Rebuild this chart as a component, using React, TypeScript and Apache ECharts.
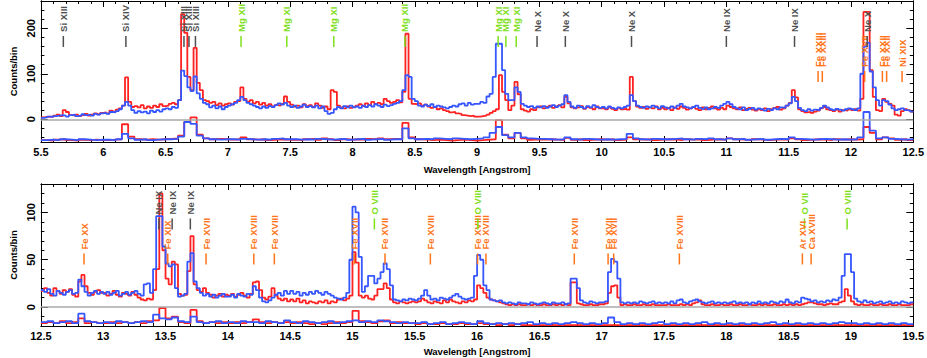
import React, { useEffect, useRef } from "react";
import * as echarts from "echarts";

// ---------------- data ----------------
const topStart = 5.5;
const topBin = 0.025;
const botStart = 12.5;
const botBin = 0.025;
const resBin = 0.05;

const topRed = [
  4, 5, 6, 5, 8, 10, 7, 20, 16, 9, 8, 10, 7, 9, 12, 8, 10, 13, 11, 14,
  15, 13, 19, 17, 21, 24, 30, 92, 38, 27, 29, 26, 31, 24, 28, 25, 30, 27, 33, 29,
  30, 34, 36, 33, 42, 231, 190, 93, 64, 157, 80, 64, 42, 40, 36, 38, 31, 35, 30, 33,
  35, 32, 38, 40, 70, 45, 38, 42, 35, 38, 32, 36, 30, 33, 28, 31, 30, 34, 50, 38,
  32, 28, 30, 26, 33, 29, 31, 27, 35, 30, 25, 28, 22, 64, 60, 30, 26, 24, 28, 25,
  27, 30, 33, 29, 35, 31, 38, 34, 36, 33, 45, 40, 36, 38, 42, 37, 60, 188, 45, 34,
  33, 35, 30, 32, 28, 25, 27, 22, 24, 20, 18, 15, 16, 13, 12, 9, 8, 7, 8, 6,
  6, 7, 8, 10, 14, 18, 22, 97, 60, 42, 20, 30, 82, 55, 22, 19, 17, 22, 20, 26,
  28, 24, 27, 30, 25, 28, 31, 26, 49, 35, 26, 24, 26, 29, 23, 27, 25, 22, 28, 24,
  24, 22, 26, 23, 20, 25, 22, 23, 21, 93, 40, 28, 25, 27, 23, 26, 24, 28, 22, 25,
  22, 25, 20, 26, 23, 28, 25, 21, 24, 27, 23, 20, 26, 22, 25, 28, 24, 21, 25, 22,
  30, 27, 24, 22, 26, 20, 23, 25, 21, 19, 22, 20, 24, 18, 22, 25, 27, 21, 24, 30,
  36, 64, 48, 22, 18, 15, 16, 14, 17, 19, 24, 27, 22, 20, 18, 21, 17, 20, 19, 22,
  20, 22, 19, 45, 236, 236, 108, 49, 20, 18, 45, 38, 34, 30, 10, 8, 18, 22, 20, 17,
];

const topBlue = [
  3, 4, 6, 5, 7, 8, 9, 8, 6, 9, 10, 7, 8, 11, 9, 10, 8, 12, 10, 13,
  14, 12, 16, 15, 18, 22, 30, 38, 30, 20, 14, 18, 15, 17, 13, 19, 16, 20, 17, 22,
  24, 22, 27, 25, 42, 107, 95, 70, 62, 94, 57, 45, 36, 33, 26, 30, 24, 28, 22, 27,
  30, 33, 36, 42, 49, 42, 36, 33, 30, 27, 24, 28, 25, 29, 27, 31, 35, 32, 36, 30,
  27, 30, 25, 28, 32, 27, 29, 26, 30, 24, 28, 18, 12, 14, 22, 27, 24, 29, 26, 30,
  26, 28, 25, 30, 27, 31, 28, 33, 30, 27, 32, 29, 31, 34, 36, 40, 64, 97, 93, 45,
  40, 30, 28, 32, 29, 33, 27, 30, 28, 26, 24, 27, 30, 28, 33, 35, 30, 36, 32, 34,
  34, 38, 36, 50, 56, 93, 166, 166, 108, 56, 42, 42, 70, 60, 34, 30, 27, 29, 25, 28,
  26, 29, 25, 28, 31, 27, 30, 33, 53, 38, 28, 25, 30, 27, 24, 29, 26, 31, 27, 25,
  27, 24, 28, 25, 23, 26, 24, 27, 30, 53, 40, 30, 27, 25, 28, 26, 30, 27, 24, 29,
  26, 24, 28, 25, 30, 34, 28, 26, 24, 27, 30, 25, 23, 26, 22, 24, 27, 25, 30, 34,
  38, 33, 27, 24, 22, 26, 20, 23, 25, 21, 24, 22, 19, 23, 20, 24, 22, 26, 25, 30,
  35, 49, 40, 25, 20, 18, 22, 19, 21, 20, 25, 30, 26, 22, 20, 23, 21, 19, 22, 24,
  22, 20, 24, 100, 160, 168, 105, 70, 42, 30, 42, 40, 32, 24, 20, 22, 24, 20, 19, 17,
];

const topRedRes = [
  -46, -47, -45, -44, -46, -47, -45, -46, -45, -46,
  -46, -45, -44, -11, -38, -44, -45, -44, -45, -44,
  -43, -42, -36, -6, 4, -34, -42, -44, -43, -44,
  -45, -44, -40, -44, -45, -44, -46, -45, -44, -45,
  -45, -46, -44, -43, -45, -42, -44, -46, -44, -45,
  -44, -45, -43, -44, -42, -44, -43, -44, -8, -40,
  -44, -45, -46, -45, -46, -47, -46, -45, -46, -47,
  -46, -45, -44, -2, -34, -42, -30, -42, -45, -44,
  -45, -44, -45, -46, -41, -45, -44, -46, -45, -44,
  -45, -44, -46, -45, -40, -44, -45, -44, -46, -45,
  -44, -45, -46, -44, -45, -44, -46, -45, -44, -45,
  -42, -44, -45, -46, -44, -45, -46, -45, -44, -45,
  -42, -44, -46, -45, -44, -45, -46, -44, -45, -44,
  -45, -44, -17, -30, -44, -40, -42, -45, -44, -46,
];

const topBlueRes = [
  -46, -45, -46, -44, -45, -46, -44, -45, -46, -45,
  -45, -46, -44, -32, -42, -45, -44, -46, -45, -44,
  -44, -43, -38, -6, -10, -36, -42, -44, -45, -44,
  -44, -45, -43, -44, -45, -44, -45, -43, -42, -44,
  -44, -45, -44, -45, -43, -44, -45, -44, -43, -45,
  -44, -43, -45, -44, -43, -45, -44, -44, -20, -42,
  -44, -43, -44, -42, -43, -44, -42, -43, -44, -43,
  -42, -40, -30, -17, -35, -40, -30, -40, -42, -43,
  -43, -44, -45, -44, -40, -44, -45, -43, -44, -45,
  -44, -45, -44, -43, -32, -42, -44, -45, -43, -44,
  -44, -43, -42, -44, -45, -43, -44, -42, -44, -45,
  -42, -44, -43, -45, -44, -43, -45, -44, -43, -44,
  -40, -43, -44, -45, -44, -43, -44, -45, -44, -45,
  -44, -40, 16, -25, -42, -40, -43, -44, -45, -44,
];

const botRed = [
  17, 20, 15, 12, 20, 17, 14, 18, 16, 19, 13, 11, 27, 34, 22, 15, 13, 16, 18, 15,
  15, 12, 14, 17, 13, 11, 15, 14, 12, 16, 13, 10, 8, 7, 9, 8, 18, 40, 120, 60,
  30, 24, 48, 45, 14, 12, 13, 38, 75, 24, 18, 16, 20, 15, 13, 10, 12, 14, 11, 13,
  12, 14, 11, 13, 15, 12, 10, 14, 26, 27, 18, 10, 8, 11, 20, 12, 9, 7, 9, 6,
  8, 6, 9, 5, 7, 4, 6, 5, 4, 6, 5, 7, 4, 6, 5, 8, 9, 7, 9, 12,
  58, 47, 12, 10, 12, 9, 8, 12, 19, 19, 25, 20, 8, 5, 4, 6, 5, 4, 5, 6,
  5, 6, 9, 7, 5, 4, 6, 5, 4, 7, 5, 8, 6, 5, 4, 6, 5, 7, 6, 8,
  23, 20, 15, 10, 8, 7, 6, 5, 4, 3, 2, 3, 2, 3, 2, 2, 3, 2, 3, 2,
  2, 3, 2, 2, 3, 2, 3, 2, 3, 2, 26, 26, 4, 3, 2, 2, 3, 2, 2, 3,
  3, 4, 15, 22, 23, 10, 2, 3, 2, 2, 3, 2, 2, 3, 2, 2, 3, 2, 2, 2,
  2, 3, 2, 2, 2, 3, 2, 3, 2, 4, 5, 7, 3, 2, 2, 3, 2, 2, 3, 2,
  2, 3, 2, 2, 3, 2, 2, 3, 2, 2, 3, 2, 3, 2, 2, 3, 2, 2, 3, 2,
  3, 2, 3, 2, 3, 4, 5, 5, 4, 3, 3, 2, 3, 4, 3, 3, 5, 6, 19, 12,
  6, 3, 2, 3, 2, 2, 3, 2, 2, 3, 2, 2, 3, 2, 2, 3, 2, 2, 2, 3,
];

const botBlue = [
  18, 16, 19, 14, 12, 17, 15, 13, 16, 18, 14, 15, 29, 22, 16, 12, 15, 17, 14, 16,
  14, 16, 13, 15, 17, 12, 14, 16, 13, 15, 17, 14, 12, 24, 25, 15, 40, 96, 96, 64,
  46, 43, 45, 20, 11, 12, 14, 48, 57, 27, 20, 15, 12, 14, 11, 13, 10, 12, 14, 11,
  11, 13, 10, 14, 12, 11, 14, 13, 22, 18, 10, 6, 5, 7, 10, 13, 15, 12, 17, 14,
  17, 14, 16, 12, 15, 13, 16, 14, 17, 15, 13, 16, 14, 12, 10, 9, 8, 10, 15, 50,
  106, 100, 53, 16, 22, 33, 33, 25, 30, 37, 46, 40, 23, 8, 7, 6, 8, 7, 9, 8,
  7, 9, 12, 18, 12, 8, 9, 7, 10, 9, 8, 10, 12, 14, 11, 9, 8, 9, 10, 33,
  55, 50, 23, 18, 8, 7, 6, 7, 5, 4, 5, 4, 3, 5, 4, 4, 3, 5, 4, 3,
  4, 5, 4, 3, 5, 4, 4, 5, 3, 4, 30, 30, 20, 7, 5, 4, 6, 5, 4, 5,
  5, 6, 37, 51, 48, 30, 5, 4, 5, 4, 5, 4, 6, 5, 4, 5, 6, 4, 5, 4,
  5, 4, 6, 4, 7, 8, 5, 4, 6, 7, 8, 6, 5, 4, 5, 6, 4, 5, 4, 5,
  4, 5, 6, 4, 5, 4, 5, 3, 5, 4, 6, 4, 5, 4, 6, 5, 4, 6, 5, 8,
  5, 4, 6, 5, 10, 9, 8, 6, 7, 5, 6, 5, 7, 6, 8, 7, 10, 33, 56, 56,
  37, 9, 6, 5, 7, 5, 6, 4, 5, 6, 4, 5, 6, 4, 5, 4, 6, 5, 4, 5,
];

const botRedRes = [
  -17, -16, -17, -15, -17, -16, -12, -17, -16, -17,
  -17, -16, -17, -16, -17, -16, -17, -15, -14, -1,
  -12, -10, -16, -17, -3, -15, -17, -16, -17, -16,
  -17, -16, -17, -16, -13, -16, -17, -16, -17, -16,
  -17, -16, -17, -18, -17, -18, -17, -16, -17, -16,
  -4, -15, -16, -17, -15, -14, -17, -16, -17, -17,
  -18, -17, -18, -18, -17, -18, -18, -17, -18, -18,
  -17, -18, -18, -19, -18, -19, -18, -19, -19, -19,
  -19, -19, -19, -19, -19, -19, -19, -19, -19, -19,
  -19, -19, -19, -19, -19, -19, -19, -19, -19, -19,
  -19, -19, -19, -19, -19, -19, -19, -19, -19, -19,
  -19, -19, -19, -19, -19, -19, -19, -19, -19, -19,
  -19, -19, -19, -19, -19, -19, -19, -19, -19, -19,
  -19, -19, -19, -19, -19, -19, -19, -19, -19, -19,
];

const botBlueRes = [
  -16, -15, -17, -16, -15, -17, -7, -15, -16, -17,
  -16, -17, -15, -16, -17, -16, -15, -16, -8, -12,
  -13, -11, -15, -16, -10, -16, -17, -16, -15, -17,
  -16, -17, -15, -16, -16, -17, -15, -16, -17, -14,
  -16, -17, -15, -16, -17, -16, -15, -17, -16, -15,
  -14, -16, -15, -16, -14, -15, -16, -17, -16, -17,
  -17, -16, -18, -17, -16, -18, -17, -16, -17, -18,
  -15, -17, -18, -17, -18, -17, -18, -17, -16, -18,
  -17, -18, -17, -18, -17, -16, -17, -18, -17, -18,
  -17, -11, -16, -18, -17, -18, -17, -18, -17, -16,
  -18, -17, -18, -17, -18, -17, -16, -18, -17, -18,
  -17, -18, -17, -18, -17, -18, -17, -16, -18, -17,
  -18, -17, -18, -17, -18, -17, -18, -17, -16, -17,
  -17, -18, -17, -18, -17, -18, -17, -18, -17, -18,
];

const topLineWave = [5.68, 6.182, 6.648, 6.688, 6.74, 7.106, 7.473, 7.85, 8.421, 9.169, 9.231, 9.314, 9.481, 9.708, 10.239, 11.0, 11.547, 11.736, 11.77, 12.11, 12.13, 12.252, 12.286, 12.41];
const topLineName = ["Si XIII", "Si XIV", "Si XIII", "Si XIII", "Si XIII", "Mg XII", "Mg XI", "Mg XI", "Mg XII", "Mg XI", "Mg XI", "Mg XI", "Ne X", "Ne X", "Ne X", "Ne IX", "Ne IX", "Fe XXIII", "Fe XXIII", "Fe XVII", "Ne X", "Fe XXII", "Fe XXII", "Ni XIX"];

const botLineWave = [12.846, 13.447, 13.518, 13.553, 13.699, 13.825, 14.208, 14.373, 15.014, 15.176, 15.261, 15.625, 16.004, 16.006, 16.071, 16.78, 17.051, 17.096, 17.623, 18.627, 18.61, 18.68, 18.969];
const botLineName = ["Fe XX", "Ne IX", "Fe XIX", "Ne IX", "Ne IX", "Fe XVII", "Fe XVIII", "Fe XVIII", "Fe XVII", "O VIII", "Fe XVII", "Fe XVIII", "Fe XVIII", "O VIII", "Fe XVIII", "Fe XVII", "Fe XVII", "Fe XVII", "Fe XVIII", "O VII", "Ar XVI", "Ca XVIII", "O VIII"];

const topYLabels = [0, 100, 200];
const topYMinor = [-40, -20, 0, 20, 40, 60, 80, 100, 120, 140, 160, 180, 200, 220, 240, 260];
const botYLabels = [0, 50, 100];
const botYMinor = [-20, -10, 0, 10, 20, 30, 40, 50, 60, 70, 80, 90, 100, 110, 120, 130];

// ---------------- styles ----------------
const RED = "#ff2222";
const BLUE = "#3656ff";
const GRAY = "#4f4f4f";
const GREEN = "#7ee01c";
const ORANGE = "#ff7418";
const FONT = "'Liberation Sans', Arial, Helvetica, sans-serif";

function kindColor(name: string) {
  const el = name.split(" ")[0];
  if (el === "Si" || el === "Ne") return GRAY;
  if (el === "Mg" || el === "O") return GREEN;
  return ORANGE;
}
function isUpper(name: string) {
  return kindColor(name) !== ORANGE;
}

function steps(start: number, bin: number, vals: number[]) {
  const out: number[][] = vals.map((v, i) => [+(start + i * bin).toFixed(4), v]);
  out.push([+(start + vals.length * bin).toFixed(4), vals[vals.length - 1]]);
  return out;
}

function lineSeries(xi: number, yi: number, data: number[][], color: string, z: number, extra: any = {}) {
  return {
    type: "line",
    xAxisIndex: xi,
    yAxisIndex: yi,
    data,
    step: "end",
    symbol: "none",
    showSymbol: false,
    silent: true,
    z,
    lineStyle: { color, width: 1.8 },
    ...extra,
  };
}

function labelSeries(xi: number, yi: number, waves: number[], names: string[], upperBase: number, lowerBase: number) {
  return {
    type: "custom",
    xAxisIndex: xi,
    yAxisIndex: yi,
    silent: true,
    clip: false,
    z: 10,
    data: waves.map((w, i) => [w, isUpper(names[i]) ? upperBase : lowerBase]),
    renderItem: (params: any, api: any) => {
      const name = names[params.dataIndex];
      const color = kindColor(name);
      const p = api.coord([api.value(0), api.value(1)]);
      return {
        type: "group",
        children: [
          {
            type: "line",
            shape: { x1: p[0], y1: p[1], x2: p[0], y2: p[1] - 11 },
            style: { stroke: color, lineWidth: 1.5 },
          },
          {
            type: "text",
            x: p[0],
            y: p[1] - 15,
            rotation: Math.PI / 2,
            style: {
              text: name,
              fill: color,
              fontSize: 9.5,
              fontFamily: FONT,
              fontWeight: "bold",
              align: "left",
              verticalAlign: "middle",
            },
          },
        ],
      };
    },
  };
}

function xAxes(grid: number, min: number, max: number, nameGap: number) {
  const common = {
    gridIndex: grid,
    type: "value",
    min,
    max,
    interval: 0.5,
    splitLine: { show: false },
    axisLine: { show: true, onZero: false, lineStyle: { color: "#000", width: 1 } },
    axisTick: { show: true, inside: true, length: 6, lineStyle: { color: "#000", width: 1 } },
    minorTick: { show: true, splitNumber: 5, length: 3, lineStyle: { color: "#000", width: 1 } },
  };
  return [
    {
      ...common,
      position: "bottom",
      name: "Wavelength [Angstrom]",
      nameLocation: "middle",
      nameGap,
      nameTextStyle: { fontFamily: FONT, fontSize: 9.5, fontWeight: "bold", color: "#000" },
      axisLabel: {
        show: true,
        margin: 4,
        fontFamily: FONT,
        fontSize: 11,
        fontWeight: "bold",
        color: "#000",
        showMinLabel: true,
        showMaxLabel: true,
        hideOverlap: false,
      },
    },
    { ...common, position: "top", axisLabel: { show: false } },
  ];
}

function yAxes(grid: number, min: number, max: number, labels: number[], minor: number[]) {
  const base = {
    gridIndex: grid,
    type: "value",
    min,
    max,
    splitLine: { show: false },
    axisLine: { show: true, onZero: false, lineStyle: { color: "#000", width: 1 } },
  };
  return [
    {
      ...base,
      position: "left",
      name: "Counts/bin",
      nameLocation: "middle",
      nameGap: 15,
      nameRotate: 90,
      nameTextStyle: { fontFamily: FONT, fontSize: 9.5, fontWeight: "bold", color: "#000" },
      axisTick: { show: true, inside: true, length: 7, customValues: labels, lineStyle: { color: "#000" } },
      axisLabel: {
        show: true,
        customValues: labels,
        rotate: 90,
        margin: 4,
        fontFamily: FONT,
        fontSize: 11,
        fontWeight: "bold",
        color: "#000",
      },
    },
    {
      ...base,
      position: "left",
      axisTick: { show: true, inside: true, length: 3.5, customValues: minor, lineStyle: { color: "#000" } },
      axisLabel: { show: false },
    },
    {
      ...base,
      position: "right",
      axisTick: { show: true, inside: true, length: 7, customValues: labels, lineStyle: { color: "#000" } },
      axisLabel: { show: false },
    },
    {
      ...base,
      position: "right",
      axisTick: { show: true, inside: true, length: 3.5, customValues: minor, lineStyle: { color: "#000" } },
      axisLabel: { show: false },
    },
  ];
}

const zeroLine = {
  silent: true,
  symbol: "none",
  label: { show: false },
  lineStyle: { color: "#a8a8a8", width: 1.5, type: "solid" },
  data: [{ yAxis: 0 }],
};

export default function App() {
  const ref = useRef<HTMLDivElement>(null);
  useEffect(() => {
    document.body.style.margin = "0";
    if (!ref.current) return;
    const chart = echarts.init(ref.current, undefined, { renderer: "svg" });
    const option: any = {
      animation: false,
      backgroundColor: "#fff",
      grid: [
        { left: 28, top: 1, width: 891, height: 141 },
        { left: 28, top: 184, width: 891, height: 142 },
      ],
      xAxis: [...xAxes(0, 5.5, 12.5, 22), ...xAxes(1, 12.5, 19.5, 20)],
      yAxis: [...yAxes(0, -50, 260, topYLabels, topYMinor), ...yAxes(1, -20, 130, botYLabels, botYMinor)],
      series: [
        lineSeries(0, 0, steps(topStart, resBin, topRedRes), RED, 2, { markLine: zeroLine }),
        lineSeries(0, 0, steps(topStart, resBin, topBlueRes), BLUE, 3),
        lineSeries(0, 0, steps(topStart, topBin, topRed), RED, 4),
        lineSeries(0, 0, steps(topStart, topBin, topBlue), BLUE, 5),
        labelSeries(0, 0, topLineWave, topLineName, 159, 82),
        lineSeries(2, 4, steps(botStart, resBin, botRedRes), RED, 2, { markLine: zeroLine }),
        lineSeries(2, 4, steps(botStart, resBin, botBlueRes), BLUE, 3),
        lineSeries(2, 4, steps(botStart, botBin, botRed), RED, 4),
        lineSeries(2, 4, steps(botStart, botBin, botBlue), BLUE, 5),
        labelSeries(2, 4, botLineWave, botLineName, 82, 45),
      ],
    };
    chart.setOption(option);
    return () => chart.dispose();
  }, []);
  return <div ref={ref} style={{ width: 927, height: 358 }} />;
}
